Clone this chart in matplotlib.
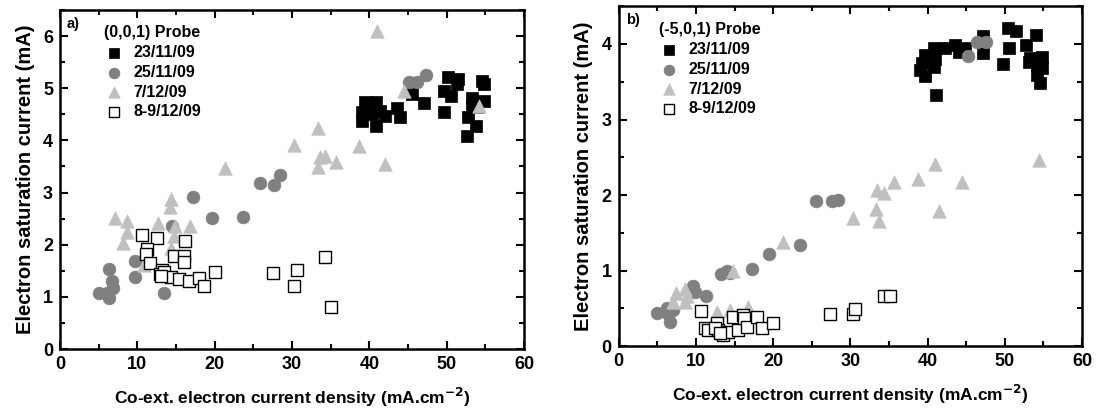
import matplotlib
matplotlib.use("Agg")
import matplotlib.pyplot as plt
from matplotlib.ticker import MultipleLocator

plt.rcParams['font.family'] = ['Liberation Sans', 'DejaVu Sans']
plt.rcParams['font.weight'] = 'bold'
plt.rcParams['mathtext.default'] = 'bf'

labels = ["23/11/09", "25/11/09", "7/12/09", "8-9/12/09"]

# Panel a: (0,0,1) probe
a_sq_x = [39.5, 40.8, 39.0, 39.0, 40.3, 40.8, 42.0, 43.6, 44.0, 40.0, 41.4, 45.5, 47.1,
          50.2, 51.5, 51.3, 49.7, 50.5, 49.7, 54.6, 54.8, 53.3, 54.8, 53.3, 52.8, 53.8, 52.6, 53.9]
a_sq_y = [4.73, 4.73, 4.54, 4.38, 4.51, 4.28, 4.47, 4.62, 4.44, 4.63, 4.57, 4.88, 4.72,
          5.22, 5.18, 5.08, 4.95, 4.86, 4.55, 5.14, 5.08, 4.82, 4.76, 4.67, 4.44, 4.28, 4.09, 4.64]
a_ci_x = [5.0, 6.3, 6.4, 6.7, 6.9, 6.1, 9.7, 9.7, 13.4, 14.5, 17.2, 19.6, 23.6, 25.8, 27.7, 28.5,
          45.1, 46.1, 47.3]
a_ci_y = [1.07, 0.98, 1.53, 1.30, 1.17, 1.07, 1.68, 1.38, 1.07, 2.36, 2.92, 2.51, 2.54, 3.19, 3.15, 3.33,
          5.11, 5.11, 5.26]
a_tr_x = [7.1, 8.7, 8.7, 8.2, 14.3, 14.2, 12.7, 14.9, 16.8, 14.7, 14.3, 10.9, 21.3,
          41.0, 33.3, 30.2, 33.6, 34.3, 33.4, 35.7, 38.7, 42.0, 44.5, 54.2]
a_tr_y = [2.51, 2.46, 2.25, 2.03, 2.87, 2.73, 2.41, 2.36, 2.35, 2.16, 1.93, 1.62, 3.47,
          6.10, 4.23, 3.92, 3.68, 3.70, 3.49, 3.58, 3.90, 3.55, 4.94, 4.65]
a_os_x = [10.6, 12.6, 16.2, 11.3, 11.1, 11.6, 14.8, 16.0, 16.0, 13.2, 12.9, 13.5, 14.3, 15.4,
          16.7, 18.0, 18.6, 20.0, 27.5, 30.3, 30.6, 34.3, 35.1, 13.0]
a_os_y = [2.19, 2.13, 2.08, 1.92, 1.83, 1.65, 1.79, 1.79, 1.66, 1.52, 1.44, 1.47, 1.38, 1.34,
          1.30, 1.36, 1.21, 1.48, 1.46, 1.20, 1.51, 1.76, 0.80, 1.40]

# Panel b: (-5,0,1) probe
b_sq_x = [50.4, 51.5, 54.0, 52.7, 50.5, 49.8, 47.2, 47.2, 43.6, 42.3, 40.8, 39.7, 39.3, 39.0,
          39.7, 40.8, 41.0, 41.1, 44.0, 44.9, 53.3, 54.8, 54.2, 54.8, 54.2, 54.6, 53.1]
b_sq_y = [4.21, 4.17, 4.12, 3.99, 3.95, 3.73, 4.10, 3.88, 3.99, 3.95, 3.95, 3.86, 3.75, 3.66,
          3.57, 3.69, 3.80, 3.32, 3.90, 3.95, 3.81, 3.83, 3.72, 3.68, 3.59, 3.48, 3.76]
b_ci_x = [5.0, 6.4, 6.6, 6.2, 7.0, 9.6, 9.9, 11.3, 13.3, 14.0, 14.4, 17.2, 19.5, 23.5, 25.6, 27.6, 28.4,
          45.2, 46.4, 47.5]
b_ci_y = [0.44, 0.43, 0.32, 0.50, 0.48, 0.79, 0.72, 0.67, 0.95, 0.99, 0.97, 1.02, 1.22, 1.34, 1.92, 1.92, 1.94,
          3.84, 4.02, 4.02]
b_tr_x = [7.4, 8.6, 8.6, 8.8, 7.0, 12.7, 14.4, 16.8, 14.8, 21.3, 30.3, 33.3, 33.7, 33.4, 34.3,
          35.7, 38.7, 41.0, 41.5, 44.5, 54.4]
b_tr_y = [0.70, 0.75, 0.59, 0.66, 0.59, 0.45, 0.48, 0.52, 1.00, 1.38, 1.70, 1.81, 1.65, 2.07, 2.03,
          2.17, 2.21, 2.41, 1.79, 2.17, 2.47]
b_os_x = [10.6, 11.2, 11.6, 12.7, 12.9, 13.5, 14.2, 14.8, 15.5, 16.1, 16.2, 16.6, 17.9, 18.6,
          20.0, 27.4, 30.3, 30.6, 34.3, 35.1, 12.4, 13.1]
b_os_y = [0.46, 0.24, 0.21, 0.30, 0.21, 0.15, 0.19, 0.39, 0.21, 0.41, 0.37, 0.25, 0.39, 0.24,
          0.31, 0.42, 0.43, 0.49, 0.66, 0.66, 0.24, 0.17]

fig = plt.figure(figsize=(11.03, 4.15), dpi=100)
ax_a = fig.add_axes([0.0544, 0.159, 0.4207, 0.817])
ax_b = fig.add_axes([0.561, 0.166, 0.420, 0.819])

def draw(ax, sq, ci, tr, os_, ylim, title, panel, leg_anchor):
    s = 72
    ax.scatter(sq[0], sq[1], marker='s', s=s, c='black', edgecolors='black', linewidths=0.5, label=labels[0], zorder=3)
    ax.scatter(ci[0], ci[1], marker='o', s=s+12, c='#808080', edgecolors='#808080', linewidths=0.5, label=labels[1], zorder=4)
    ax.scatter(tr[0], tr[1], marker='^', s=s+22, c='#c0c0c0', edgecolors='#c0c0c0', linewidths=0.5, label=labels[2], zorder=5)
    ax.scatter(os_[0], os_[1], marker='s', s=s, facecolors='white', edgecolors='black', linewidths=1.0, label=labels[3], zorder=6)
    ax.set_xlim(0, 60)
    ax.set_ylim(*ylim)
    ax.xaxis.set_major_locator(MultipleLocator(10))
    ax.xaxis.set_minor_locator(MultipleLocator(5))
    ax.yaxis.set_major_locator(MultipleLocator(1))
    ax.yaxis.set_minor_locator(MultipleLocator(0.5))
    ax.tick_params(which='both', direction='in', top=True, right=True, width=1.5, labelsize=13)
    ax.tick_params(which='major', length=6, pad=5)
    ax.tick_params(which='minor', length=3.5)
    for sp in ax.spines.values():
        sp.set_linewidth(1.8)
    for lab in ax.get_xticklabels() + ax.get_yticklabels():
        lab.set_fontweight('bold')
    ax.set_xlabel('Co-ext. electron current density (mA.cm$^{-2}$)', fontsize=12.5, fontweight='bold', labelpad=9)
    ax.set_ylabel('Electron saturation current (mA)', fontsize=14.5, fontweight='bold', labelpad=6)
    ax.text(0.015, 0.98, panel, transform=ax.transAxes, fontsize=10.5, fontweight='bold', va='top', ha='left')
    leg = ax.legend(loc='upper left', bbox_to_anchor=leg_anchor, frameon=False, title=title,
                    prop={'weight': 'bold', 'size': 11.5}, title_fontproperties={'weight': 'bold', 'size': 11.5},
                    handlelength=1.3, handletextpad=0.55, labelspacing=0.3, borderaxespad=0.0, borderpad=0.0,
                    markerscale=0.85)
    leg._legend_box.align = 'left'

draw(ax_a, (a_sq_x, a_sq_y), (a_ci_x, a_ci_y), (a_tr_x, a_tr_y), (a_os_x, a_os_y), (0, 6.5),
     '(0,0,1) Probe', 'a)', (0.095, 0.955))
draw(ax_b, (b_sq_x, b_sq_y), (b_ci_x, b_ci_y), (b_tr_x, b_tr_y), (b_os_x, b_os_y), (0, 4.5),
     '(-5,0,1) Probe', 'b)', (0.087, 0.953))

fig.savefig('out.png', dpi=100)
